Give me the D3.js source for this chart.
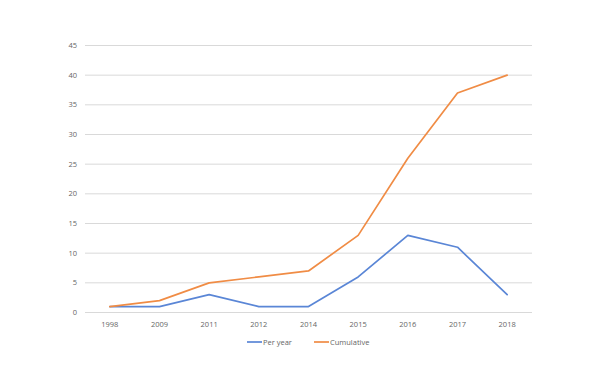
<!DOCTYPE html>
<html>
<head>
<meta charset="utf-8">
<script src="https://cdn.jsdelivr.net/npm/d3@7"></script>
<style>
  body { margin: 0; background: #fff; }
  text { font-family: "Open Sans", "Liberation Sans", sans-serif; fill: #666; }
</style>
</head>
<body>
<svg id="chart" width="600" height="387"></svg>
<script>
var years = ["1998", "2009", "2011", "2012", "2014", "2015", "2016", "2017", "2018"]
var perYear = [1, 1, 3, 1, 1, 6, 13, 11, 3]
var cumulative = [1, 2, 5, 6, 7, 13, 26, 37, 40]
var yTicks = [0, 5, 10, 15, 20, 25, 30, 35, 40, 45]
var seriesNames = ["Per year", "Cumulative"]
var seriesColors = ["#5A86D6", "#F08C45"]

var svg = d3.select("#chart")
var plotLeft = 85, plotRight = 532, plotTop = 45.5, plotBottom = 312.5

var x = d3.scaleBand().domain(years).range([plotLeft, plotRight])
var y = d3.scaleLinear().domain([0, 45]).range([plotBottom, plotTop])

// gridlines
svg.append("g")
  .selectAll("line")
  .data(yTicks).enter()
  .append("line")
  .attr("x1", plotLeft)
  .attr("x2", plotRight)
  .attr("y1", function (d) { return y(d) })
  .attr("y2", function (d) { return y(d) })
  .attr("stroke", "#d9d9d9")
  .attr("stroke-width", 1)

// y labels
svg.append("g")
  .selectAll("text")
  .data(yTicks).enter()
  .append("text")
  .attr("x", plotLeft - 8)
  .attr("y", function (d) { return y(d) })
  .attr("dy", "0.35em")
  .attr("text-anchor", "end")
  .style("font-size", "7.5px")
  .text(function (d) { return d })

// x labels
svg.append("g")
  .selectAll("text")
  .data(years).enter()
  .append("text")
  .attr("x", function (d) { return x(d) + x.bandwidth() / 2 })
  .attr("y", plotBottom + 14)
  .attr("text-anchor", "middle")
  .style("font-size", "7.5px")
  .text(function (d) { return d })

var line = d3.line()
  .x(function (d, i) { return x(years[i]) + x.bandwidth() / 2 })
  .y(function (d) { return y(d) })

;[perYear, cumulative].forEach(function (s, k) {
  svg.append("path")
    .datum(s)
    .attr("d", line)
    .attr("fill", "none")
    .attr("stroke", seriesColors[k])
    .attr("stroke-width", 1.7)
    .attr("stroke-linejoin", "round")
    .attr("stroke-linecap", "round")
})

// legend
var legendX = [247, 314]
var lg = svg.append("g")
  .selectAll("g")
  .data(seriesNames).enter()
  .append("g")
  .attr("transform", function (d, i) { return "translate(" + legendX[i] + ",342)" })
lg.append("line")
  .attr("x1", 0).attr("x2", 15)
  .attr("stroke", function (d, i) { return seriesColors[i] })
  .attr("stroke-width", 1.7)
lg.append("text")
  .attr("x", 16)
  .attr("dy", "0.35em")
  .style("font-size", "7.5px")
  .text(function (d) { return d })
</script>
</body>
</html>
